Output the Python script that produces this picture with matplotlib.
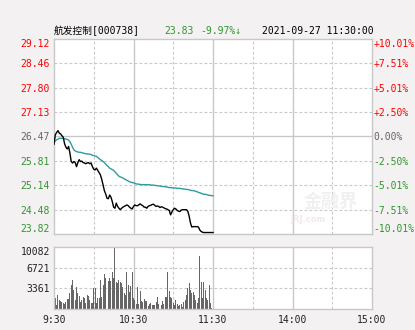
import numpy as np
import matplotlib
matplotlib.use('Agg')
import matplotlib.pyplot as plt

# Price levels and labels
prev_close = 26.47
price_ticks = [29.12, 28.46, 27.80, 27.13, 26.47, 25.81, 25.14, 24.48, 23.82]
pct_labels = ['+10.01%', '+7.51%', '+5.01%', '+2.50%', '0.00%', '-2.50%', '-5.01%', '-7.51%', '-10.01%']
vol_ticks = [3361, 6721, 10082]
time_labels = ['9:30', '10:30', '11:30', '14:00', '15:00']
time_pos = [0, 60, 120, 180, 240]

# Minute data, 9:30 - 11:30
price = [26.26, 26.52, 26.58, 26.63, 26.56, 26.54, 26.49, 26.45, 26.27, 26.18,
         26.13, 26.20, 26.02, 25.79, 25.75, 25.79, 25.76, 25.65, 25.76, 25.84,
         25.79, 25.80, 25.76, 25.75, 25.73, 25.75, 25.76, 25.73, 25.75, 25.65,
         25.58, 25.56, 25.61, 25.55, 25.49, 25.43, 25.31, 25.16, 25.00, 24.91,
         24.79, 24.78, 24.88, 24.82, 24.70, 24.55, 24.52, 24.66, 24.57, 24.52,
         24.48, 24.52, 24.55, 24.57, 24.59, 24.61, 24.59, 24.55, 24.52, 24.50,
         24.57, 24.61, 24.59, 24.59, 24.61, 24.64, 24.61, 24.59, 24.55, 24.55,
         24.52, 24.57, 24.59, 24.60, 24.62, 24.63, 24.60, 24.57, 24.58, 24.57,
         24.54, 24.56, 24.55, 24.53, 24.51, 24.50, 24.48, 24.46, 24.34, 24.42,
         24.48, 24.52, 24.50, 24.46, 24.44, 24.43, 24.47, 24.48, 24.48, 24.48,
         24.48, 24.44, 24.30, 24.12, 24.01, 24.02, 24.02, 24.02, 24.02, 24.01,
         23.93, 23.89, 23.87, 23.86, 23.86, 23.86, 23.86, 23.86, 23.86, 23.86,
         23.86]
avg_price = [26.31, 26.35, 26.38, 26.40, 26.42, 26.42, 26.42, 26.41, 26.41, 26.40,
             26.39, 26.37, 26.33, 26.26, 26.18, 26.11, 26.08, 26.06, 26.05, 26.04,
             26.04, 26.03, 26.02, 26.01, 26.00, 26.00, 25.99, 25.99, 25.98, 25.96,
             25.95, 25.94, 25.93, 25.90, 25.87, 25.84, 25.82, 25.79, 25.76, 25.72,
             25.68, 25.65, 25.61, 25.59, 25.57, 25.55, 25.51, 25.47, 25.43, 25.39,
             25.37, 25.36, 25.34, 25.32, 25.30, 25.28, 25.26, 25.24, 25.23, 25.22,
             25.21, 25.20, 25.18, 25.18, 25.17, 25.17, 25.16, 25.16, 25.16, 25.16,
             25.16, 25.16, 25.16, 25.15, 25.15, 25.15, 25.14, 25.14, 25.13, 25.13,
             25.12, 25.12, 25.11, 25.11, 25.10, 25.10, 25.09, 25.08, 25.08, 25.08,
             25.07, 25.07, 25.07, 25.06, 25.06, 25.06, 25.05, 25.05, 25.04, 25.04,
             25.03, 25.03, 25.02, 25.01, 25.00, 25.00, 24.99, 24.98, 24.97, 24.95,
             24.94, 24.93, 24.91, 24.90, 24.90, 24.89, 24.88, 24.87, 24.87, 24.86,
             24.86]
volume = [3631, 1734, 650, 2276, 1463, 1301, 1192, 921, 759, 1192,
          1626, 1626, 2547, 3902, 4715, 3089, 1463, 3631, 2547, 2168,
          1192, 1463, 2005, 1734, 921, 2276, 2168, 1463, 921, 921,
          3469, 3360, 921, 1734, 1734, 4715, 2005, 3902, 5637, 5095,
          6612, 4553, 4986, 4553, 5962, 4986, 10082, 4336, 4173, 4715,
          4444, 4173, 3631, 2547, 2276, 6070, 3902, 2818, 3794, 6070,
          1843, 1463, 759, 3631, 759, 2927, 1301, 1084, 1626, 1301,
          1301, 542, 759, 921, 650, 650, 650, 1192, 2005, 759,
          379, 650, 1301, 759, 2005, 2005, 6070, 2927, 2005, 1734,
          921, 650, 1463, 759, 542, 650, 759, 379, 1192, 1463,
          2276, 3360, 4173, 3089, 2547, 2818, 2276, 1463, 921, 1734,
          8672, 4444, 1734, 4444, 3089, 1734, 1463, 3902, 921, 217,
          379]

minutes = np.arange(len(price))

RED = '#ff0000'
GREEN = '#2f962f'
GRAY = '#666666'
GRID = '#c8c8c8'
BG = '#f3f1f1'
FONT = ['DejaVu Sans Mono', 'Noto Sans CJK SC']

plt.rcParams['font.family'] = FONT
plt.rcParams['font.size'] = 7

W, H = 415, 330
fig = plt.figure(figsize=(W / 100, H / 100), dpi=100, facecolor=BG)

def px_axes(l, t, r, b):
    return fig.add_axes([l / W, 1 - b / H, (r - l) / W, (b - t) / H])

ax = px_axes(54, 39, 372, 234)
axv = px_axes(54, 247, 372, 309)

for a in (ax, axv):
    a.set_facecolor('white')
    a.set_xlim(0, 240)
    for s in a.spines.values():
        s.set_color(GRID)
        s.set_linewidth(1)
    for m in [30, 90, 150, 210]:
        a.axvline(m, color=GRID, lw=0.8, ls=(0, (2.5, 2)), zorder=0)
    for m in [60, 120, 180]:
        a.axvline(m, color=GRID, lw=1, zorder=0)
    a.tick_params(length=0)

# Main price panel
ax.set_ylim(price_ticks[-1], price_ticks[0])
for p in price_ticks[1:-1]:
    if p == prev_close:
        ax.axhline(p, color=GRID, lw=1, zorder=0)
    else:
        ax.axhline(p, color=GRID, lw=0.8, ls=(0, (2.5, 2)), zorder=0)
ax.plot(minutes, avg_price, color='#2e9c9c', lw=1, zorder=3)
ax.plot(minutes, price, color='black', lw=1, zorder=4)
ax.set_xticks([])
ax.set_yticks(price_ticks)
ax.set_yticklabels(['%.2f' % p for p in price_ticks])
ax.tick_params(axis='y', pad=3)

ax2 = ax.twinx()
ax2.set_ylim(ax.get_ylim())
ax2.set_yticks(price_ticks)
ax2.set_yticklabels(pct_labels)
ax2.tick_params(length=0, pad=1)
for s in ax2.spines.values():
    s.set_visible(False)

def color_for(p):
    if p > prev_close:
        return RED
    if p < prev_close:
        return GREEN
    return GRAY

for labels in (ax.get_yticklabels(), ax2.get_yticklabels()):
    for lab, p in zip(labels, price_ticks):
        lab.set_color(color_for(p))
    labels[0].set_va('top')
    labels[-1].set_va('bottom')

# faint watermark
ax.text(0.87, 0.17, '金融界', transform=ax.transAxes, ha='center', va='center',
        fontsize=13, fontweight='bold', color='#f0f0f0', family=['Noto Sans CJK SC'], zorder=1)
ax.text(0.80, 0.075, 'JRJ.com', transform=ax.transAxes, ha='center', va='center',
        fontsize=6, fontweight='bold', color='#f3e8e8', family=['DejaVu Sans'], zorder=1)

# Volume panel
axv.set_ylim(0, vol_ticks[-1])
for v in vol_ticks[:-1]:
    axv.axhline(v, color=GRID, lw=0.8, ls=(0, (2.5, 2)), zorder=0)
axv.bar(minutes, volume, width=0.75, color='#666666', linewidth=0, antialiased=False, zorder=2)
axv.set_yticks(vol_ticks)
axv.set_yticklabels([str(v) for v in vol_ticks])
axv.get_yticklabels()[-1].set_va('top')
axv.tick_params(axis='y', pad=3, labelcolor='#222222')
axv.set_xticks(time_pos)
axv.set_xticklabels(time_labels)
axv.tick_params(axis='x', pad=4, labelcolor='#222222')

# Header line
ty = 1 - 31 / H
fig.text(54 / W, ty, '航发控制[000738]', ha='left', va='center', color='black')
fig.text(164 / W, ty, '23.83', ha='left', va='center', color=GREEN)
fig.text(200 / W, ty, '-9.97%↓', ha='left', va='center', color=GREEN)
fig.text(262 / W, ty, '2021-09-27 11:30:00', ha='left', va='center', color='black')

fig.savefig('out.png', dpi=100, facecolor=BG)
